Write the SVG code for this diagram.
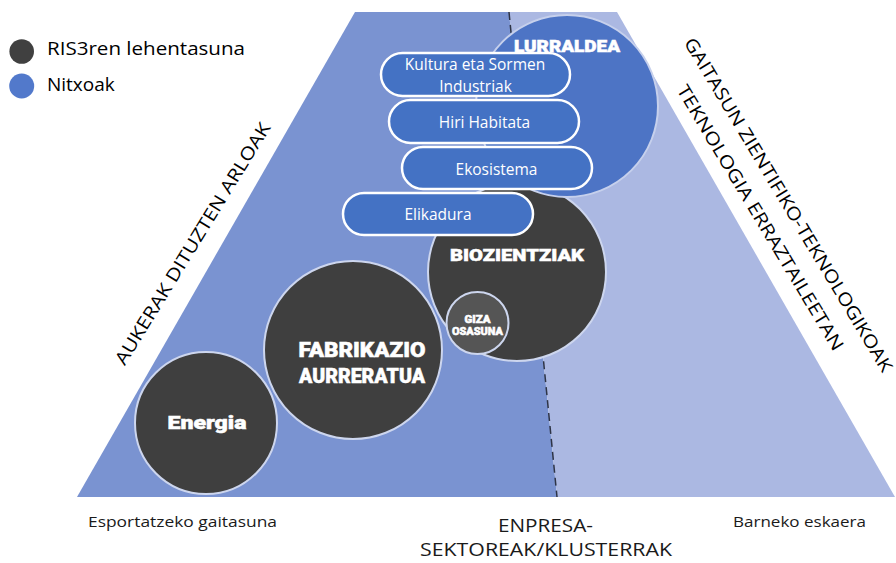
<svg xmlns="http://www.w3.org/2000/svg" width="896" height="563" viewBox="0 0 896 563">
<style>
.dark{fill:#3f3f3f;stroke:#cdd6ee;stroke-width:2}
.pill{fill:#4472c4;stroke:#ffffff;stroke-width:2.5}
.pt{font-family:"Open Sans",sans-serif;font-size:15.5px;fill:#ffffff;text-anchor:middle}
.ct{font-family:Roboto,"Liberation Sans",sans-serif;font-weight:900;fill:#ffffff;stroke:#ffffff;stroke-width:0.5;text-anchor:middle}
.side{font-family:"Open Sans",sans-serif;font-size:18px;fill:#000000;text-anchor:middle}
.lg{font-family:"Open Sans",sans-serif;font-size:19px;fill:#000000}
.bt{font-family:"Open Sans",sans-serif;fill:#1a1a1a;text-anchor:middle}
</style>
<g id="background">
<polygon points="355,12 509,12 557,497 77,497" fill="#7a93d1"/>
<polygon points="509,12 617,12 895,497 557,497" fill="#abb8e2"/>
</g>
<g id="connectors">
<line x1="509" y1="12" x2="557" y2="497" stroke="#2e3446" stroke-width="1.5" stroke-dasharray="8,5"/>
</g>
<g id="node-fabrikazio">
<circle class="dark" cx="353" cy="350" r="89"/>
<text class="ct" x="362" y="357" font-size="19.5" textLength="127" lengthAdjust="spacingAndGlyphs">FABRIKAZIO</text>
<text class="ct" x="362" y="383" font-size="19.5" textLength="126" lengthAdjust="spacingAndGlyphs">AURRERATUA</text>
</g>
<g id="node-energia">
<circle class="dark" cx="206" cy="423" r="71"/>
<text class="ct" x="207" y="429" font-size="19" textLength="79" lengthAdjust="spacingAndGlyphs">Energia</text>
</g>
<g id="node-biozientziak">
<circle class="dark" cx="517" cy="272" r="89"/>
<text class="ct" x="517" y="261" font-size="17" textLength="134" lengthAdjust="spacingAndGlyphs">BIOZIENTZIAK</text>
</g>
<g id="node-giza-osasuna">
<circle cx="477.5" cy="323" r="31" fill="#555555" stroke="#cdd6ee" stroke-width="2"/>
<text class="ct" x="477.5" y="323" font-size="10" fill="#f0f0f0" stroke-width="0.2" textLength="26" lengthAdjust="spacingAndGlyphs">GIZA</text>
<text class="ct" x="477.5" y="335" font-size="10" fill="#f0f0f0" stroke-width="0.2" textLength="51" lengthAdjust="spacingAndGlyphs">OSASUNA</text>
</g>
<g id="node-lurraldea">
<circle cx="567" cy="106" r="91" fill="#4d74c5" stroke="#c6d0ec" stroke-width="2"/>
<text class="ct" x="567" y="52" font-size="16" fill="#e9edf8" stroke="#e9edf8" textLength="106" lengthAdjust="spacingAndGlyphs">LURRALDEA</text>
</g>
<g id="node-kultura">
<rect class="pill" x="381" y="53" width="189" height="43" rx="21.5"/>
<text class="pt" x="475" y="70">Kultura eta Sormen</text>
<text class="pt" x="475.5" y="92">Industriak</text>
</g>
<g id="node-hiri">
<rect class="pill" x="389" y="100" width="190" height="43" rx="21.5"/>
<text class="pt" x="484.5" y="128">Hiri Habitata</text>
</g>
<g id="node-ekosistema">
<rect class="pill" x="402" y="147" width="190" height="42" rx="21"/>
<text class="pt" x="496.5" y="175">Ekosistema</text>
</g>
<g id="node-elikadura">
<rect class="pill" x="343" y="193" width="190" height="42" rx="21"/>
<text class="pt" x="438" y="220">Elikadura</text>
</g>
<g id="legend">
<circle cx="21.7" cy="51.5" r="12.3" fill="#404040"/>
<circle cx="21.7" cy="86" r="12.5" fill="#5279cb"/>
<text class="lg" x="47" y="55" textLength="198" lengthAdjust="spacingAndGlyphs">RIS3ren lehentasuna</text>
<text class="lg" x="47" y="91">Nitxoak</text>
</g>
<g id="side-labels">
<text class="side" transform="translate(198,247) rotate(-58.5)" textLength="280" lengthAdjust="spacingAndGlyphs">AUKERAK DITUZTEN ARLOAK</text>
<text class="side" transform="translate(783,208) rotate(59)" textLength="386" lengthAdjust="spacingAndGlyphs">GAITASUN ZIENTIFIKO-TEKNOLOGIKOAK</text>
<text class="side" transform="translate(755,221) rotate(59)" textLength="306" lengthAdjust="spacingAndGlyphs">TEKNOLOGIA ERRAZTAILEETAN</text>
</g>
<g id="bottom-labels">
<text class="bt" x="182.5" y="527" font-size="14.5" textLength="189" lengthAdjust="spacingAndGlyphs">Esportatzeko gaitasuna</text>
<text class="bt" x="799.5" y="527" font-size="14.5" textLength="133" lengthAdjust="spacingAndGlyphs">Barneko eskaera</text>
<text class="bt" x="545.5" y="532" font-size="19" textLength="95" lengthAdjust="spacingAndGlyphs">ENPRESA-</text>
<text class="bt" x="546" y="556" font-size="19" textLength="252" lengthAdjust="spacingAndGlyphs">SEKTOREAK/KLUSTERRAK</text>
</g>
</svg>
